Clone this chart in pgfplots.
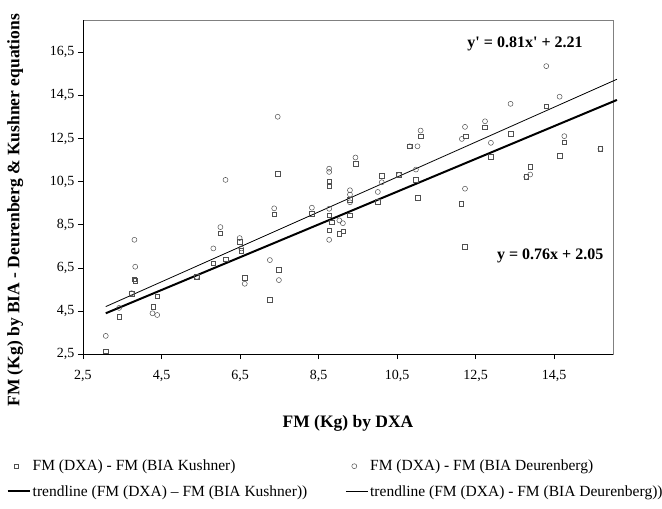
\documentclass[border=0pt]{standalone}
\usepackage{fontspec}
\setmainfont{Liberation Serif}
\usepackage{pgfplots}
\pgfplotsset{compat=1.18}
\pgfplotsset{shortline/.style={legend image code/.code={\draw[##1] (0pt,0pt) -- (22pt,0pt);}}}

\definecolor{frame}{RGB}{128,128,128}
\definecolor{markgray}{RGB}{80,80,80}

\begin{document}
\begin{tikzpicture}
\useasboundingbox (-83pt,-155pt) rectangle (579pt,354pt);
\begin{axis}[
    scale only axis, width=530pt, height=334pt,
    xmin=2.5, xmax=16, ymin=2.5, ymax=18,
    xtick={2.5,4.5,6.5,8.5,10.5,12.5,14.5},
    ytick={2.5,4.5,6.5,8.5,10.5,12.5,14.5,16.5},
    xtick pos=left, ytick pos=left, tick align=outside,
    major tick length=5pt, tick style={black, line width=0.6pt},
    axis line style={frame, line width=0.6pt},
    /pgf/number format/.cd, use comma, fixed, fixed zerofill, precision=1, assume math mode=true,
    /pgfplots/.cd,
    ticklabel style={font=\fontsize{14}{16}\selectfont},
    xticklabel shift=8pt,
    every axis x label/.style={at={(rel axis cs:0.5,-0.207)}, anchor=center},
    every axis y label/.style={at={(rel axis cs:-0.128,0.43)}, rotate=90, anchor=center},
    label style={font=\bfseries\fontsize{17.5}{20}\selectfont},
    xlabel={FM (Kg) by DXA},
    ylabel={FM (Kg) by BIA - Deurenberg \& Kushner equations},
    legend columns=2,
    legend style={draw=none, fill=none, at={(-0.150,-0.305)}, anchor=north west,
        font=\fontsize{15.5}{17}\selectfont, cells={anchor=west}, row sep=9pt,
        /tikz/every even column/.append style={column sep=36pt}},
    clip=false,
]
% Kushner
\addplot[only marks, mark=square, mark size=2.3pt, draw=markgray, line width=0.5pt] coordinates {
(3.08,2.63)(3.42,4.23)(3.74,5.30)(3.81,5.97)(3.83,5.90)(4.29,4.70)(4.39,5.18)(5.40,6.08)
(5.82,6.72)(6.00,8.11)(6.13,6.90)(6.49,7.71)(6.53,7.30)(6.62,6.03)(7.26,5.03)(7.37,8.98)
(7.46,10.86)(7.49,6.42)(8.33,9.01)(8.77,10.51)(8.77,10.28)(8.77,8.93)(8.77,8.24)(8.84,8.62)
(9.03,8.08)(9.13,8.19)(9.30,9.66)(9.30,8.93)(9.44,11.34)(10.01,9.56)(10.11,10.78)(10.55,10.81)
(10.98,10.58)(11.02,9.76)(10.82,12.14)(11.10,12.61)(12.13,9.48)(12.23,7.49)(12.25,12.61)(12.74,13.03)
(12.89,11.65)(13.39,12.73)(13.79,10.72)(13.89,11.18)(14.30,14.00)(14.64,11.71)(14.76,12.33)(15.68,12.02)
};
\addlegendentry{FM (DXA) - FM (BIA Kushner)}
% Deurenberg
\addplot[only marks, mark=o, mark size=2.5pt, draw=markgray, line width=0.5pt] coordinates {
(3.08,3.34)(3.42,4.64)(3.74,5.32)(3.81,7.80)(3.83,6.55)(4.27,4.39)(4.39,4.31)(5.40,6.08)
(5.82,7.40)(6.00,8.39)(6.13,10.58)(6.49,7.88)(6.53,7.40)(6.62,5.76)(7.26,6.86)(7.37,9.26)
(7.46,13.51)(7.49,5.93)(8.33,9.29)(8.77,11.10)(8.77,10.95)(8.77,9.24)(8.77,7.80)(9.03,8.70)
(9.12,8.57)(9.30,10.10)(9.30,9.90)(9.30,9.54)(9.44,11.62)(10.01,10.02)(10.11,10.47)(10.55,10.81)
(10.98,11.06)(11.02,12.14)(10.82,12.14)(11.10,12.87)(12.15,12.48)(12.23,13.04)(12.23,10.17)(12.74,13.30)
(12.89,12.30)(13.39,14.11)(13.79,10.72)(13.89,10.83)(14.30,15.86)(14.64,14.44)(14.76,12.61)(15.68,12.02)
};
\addlegendentry{FM (DXA) - FM (BIA Deurenberg)}
% trendlines
\addplot[black, line width=2pt, no marks, shortline] coordinates {(3.08,4.39) (16.1,14.29)};
\addlegendentry{trendline (FM (DXA) -- FM (BIA Kushner))}
\addplot[black, line width=0.8pt, no marks, shortline] coordinates {(3.08,4.70) (16.1,15.25)};
\addlegendentry{trendline (FM (DXA) - FM (BIA Deurenberg))}

\draw[black, line width=0.6pt] (rel axis cs:0,1) -- (rel axis cs:0,0) -- (rel axis cs:1,0);
\node[font=\bfseries\fontsize{16}{18}\selectfont] at (axis cs:13.76,16.90) {y\textquotesingle{} = 0.81x\textquotesingle{} + 2.21};
\node[font=\bfseries\fontsize{16}{18}\selectfont] at (axis cs:14.40,7.06) {y = 0.76x + 2.05};
\end{axis}
\end{tikzpicture}
\end{document}
